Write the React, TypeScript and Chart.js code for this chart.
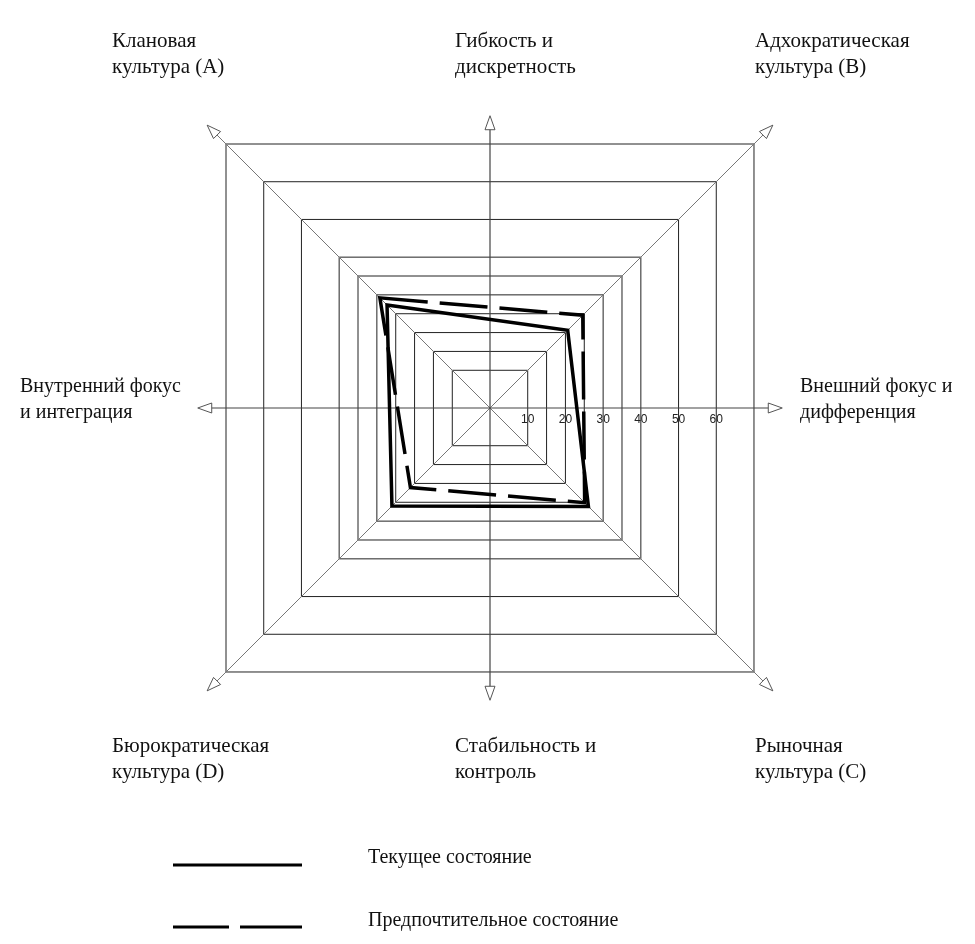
import React, { useEffect, useRef } from 'react';
import { Chart, registerables } from 'chart.js';

Chart.register(...registerables);

// ---- data ----
const CULTURES = ['Клановая культура (A)', 'Адхократическая культура (B)', 'Рыночная культура (C)', 'Бюрократическая культура (D)'];
const SERIES_NAMES = ['Текущее состояние', 'Предпочтительное состояние'];
const CURRENT = [27.3, 20.6, 26.1, 26.0];
const PREFERRED = [29.2, 24.6, 25.1, 21.1];
const GRID_LEVELS = [0, 10, 15, 20, 25, 30, 35, 40, 50, 60, 70];
const TICK_LABELS = [10, 20, 30, 40, 50, 60];
const SCALE_MAX = 75;
const AXIS_EXTENT = 77.5;

const CORNER_LABELS = [
  ['Клановая', 'культура (A)'],
  ['Адхократическая', 'культура (B)'],
  ['Рыночная', 'культура (C)'],
  ['Бюрократическая', 'культура (D)'],
];
const AXIS_LABELS = [
  ['Гибкость и', 'дискретность'],
  ['Внешний фокус и', 'дифференция'],
  ['Стабильность и', 'контроль'],
  ['Внутренний фокус', 'и интеграция'],
];

// ---- layout (page pixels) ----
const CORNER_POS = [
  { x: 112, y: 47 },
  { x: 755, y: 47 },
  { x: 755, y: 752 },
  { x: 112, y: 752 },
];
const AXIS_POS = [
  { x: 455, y: 47, big: true },
  { x: 800, y: 392, big: false },
  { x: 455, y: 752, big: true },
  { x: 20, y: 392, big: false },
];
const LINE_GAP = 26;
const SERIF = '20px "Liberation Serif", "Times New Roman", serif';
const SERIF_BIG = '21px "Liberation Serif", "Times New Roman", serif';

function drawArrow(ctx: CanvasRenderingContext2D, tx: number, ty: number, dx: number, dy: number) {
  const len = Math.hypot(dx, dy);
  const ux = dx / len, uy = dy / len;
  const px = -uy, py = ux;
  const L = 14, W = 5;
  const bx = tx - ux * L, by = ty - uy * L;
  ctx.beginPath();
  ctx.moveTo(tx, ty);
  ctx.lineTo(bx + px * W, by + py * W);
  ctx.lineTo(bx - px * W, by - py * W);
  ctx.closePath();
  ctx.fillStyle = '#fff';
  ctx.fill();
  ctx.strokeStyle = '#555';
  ctx.lineWidth = 1;
  ctx.stroke();
}

const overlay = {
  id: 'ocaiOverlay',
  beforeDatasetsDraw(chart: any) {
    const s = chart.scales.r;
    const ctx: CanvasRenderingContext2D = chart.ctx;
    const cx = s.xCenter, cy = s.yCenter;
    const hw = (v: number) => s.getDistanceFromCenterForValue(v) / Math.SQRT2;
    ctx.save();
    const ext = hw(AXIS_EXTENT);
    ctx.strokeStyle = '#444';
    ctx.lineWidth = 1.2;
    ctx.beginPath();
    ctx.moveTo(cx - ext + 12, cy);
    ctx.lineTo(cx + ext - 12, cy);
    ctx.moveTo(cx, cy - ext + 12);
    ctx.lineTo(cx, cy + ext - 12);
    ctx.stroke();
    drawArrow(ctx, cx - ext, cy, -1, 0);
    drawArrow(ctx, cx + ext, cy, 1, 0);
    drawArrow(ctx, cx, cy - ext, 0, -1);
    drawArrow(ctx, cx, cy + ext, 0, 1);
    for (let i = 0; i < CULTURES.length; i++) {
      const p = s.getPointPositionForValue(i, SCALE_MAX);
      drawArrow(ctx, p.x, p.y, p.x - cx, p.y - cy);
    }
    ctx.font = '12px "Liberation Sans", Arial, sans-serif';
    ctx.fillStyle = '#222';
    ctx.textAlign = 'center';
    ctx.textBaseline = 'middle';
    TICK_LABELS.forEach((t) => ctx.fillText(String(t), cx + hw(t), cy + 12));
    ctx.restore();
  },
  afterDraw(chart: any) {
    const ctx: CanvasRenderingContext2D = chart.ctx;
    ctx.save();
    ctx.fillStyle = '#111';
    ctx.textAlign = 'left';
    ctx.textBaseline = 'alphabetic';
    const put = (lines: string[], pos: { x: number; y: number }, font: string) => {
      ctx.font = font;
      lines.forEach((ln, k) => ctx.fillText(ln, pos.x, pos.y + k * LINE_GAP));
    };
    CORNER_LABELS.forEach((l, i) => put(l, CORNER_POS[i], SERIF_BIG));
    AXIS_LABELS.forEach((l, i) => put(l, AXIS_POS[i], AXIS_POS[i].big ? SERIF_BIG : SERIF));
    // legend
    ctx.font = SERIF;
    const rows = [
      { y: 865, dash: [] as number[], textY: 863 },
      { y: 927, dash: [56, 11, 80, 0], textY: 926 },
    ];
    rows.forEach((r, i) => {
      ctx.beginPath();
      ctx.setLineDash(r.dash);
      ctx.lineWidth = 3;
      ctx.strokeStyle = '#000';
      ctx.moveTo(173, r.y);
      ctx.lineTo(302, r.y);
      ctx.stroke();
      ctx.setLineDash([]);
      ctx.fillText(SERIES_NAMES[i], 368, r.textY);
    });
    ctx.restore();
  },
};

export default function App() {
  const ref = useRef<HTMLCanvasElement | null>(null);
  useEffect(() => {
    if (!ref.current) return;
    const chart = new Chart(ref.current, {
      type: 'radar',
      data: {
        labels: CULTURES,
        datasets: [
          {
            label: SERIES_NAMES[0],
            data: CURRENT,
            borderColor: '#000',
            backgroundColor: 'transparent',
            borderWidth: 3.5,
            borderJoinStyle: 'miter',
            pointRadius: 0,
            fill: false,
          },
          {
            label: SERIES_NAMES[1],
            data: PREFERRED,
            borderColor: '#000',
            backgroundColor: 'transparent',
            borderWidth: 3.5,
            borderDash: [48, 12],
            borderJoinStyle: 'miter',
            pointRadius: 0,
            fill: false,
          },
        ],
      },
      options: {
        responsive: false,
        animation: false,
        layout: { padding: { left: 90, right: 85, top: 8, bottom: 136 } },
        plugins: { legend: { display: false }, tooltip: { enabled: false } },
        elements: { line: { tension: 0 } },
        scales: {
          r: {
            startAngle: -45,
            min: 0,
            max: SCALE_MAX,
            ticks: { display: false, stepSize: 5 },
            afterBuildTicks: (scale: any) => {
              scale.ticks = GRID_LEVELS.map((v) => ({ value: v }));
            },
            grid: { color: '#222', lineWidth: 1 },
            angleLines: { color: '#777', lineWidth: 1 },
            pointLabels: { display: false },
          },
        },
      } as any,
      plugins: [overlay],
    });
    return () => chart.destroy();
  }, []);
  return (
    <div style={{ position: 'absolute', left: 0, top: 0, width: 975, height: 944 }}>
      <canvas ref={ref} width={975} height={944} style={{ display: 'block' }} />
    </div>
  );
}
